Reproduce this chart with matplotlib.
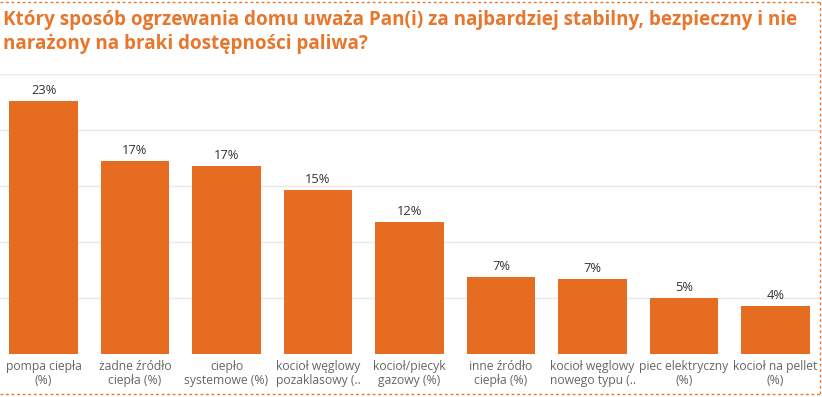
import matplotlib
matplotlib.use("Agg")
import matplotlib.pyplot as plt
from matplotlib.lines import Line2D

categories = [
    "pompa ciepła\n(%)",
    "żadne źródło\nciepła (%)",
    "ciepło\nsystemowe (%)",
    "kocioł węglowy\npozaklasowy (..",
    "kocioł/piecyk\ngazowy (%)",
    "inne źródło\nciepła (%)",
    "kocioł węglowy\nnowego typu (..",
    "piec elektryczny\n(%)",
    "kocioł na pellet\n(%)",
]
values = [22.6, 17.2, 16.8, 14.6, 11.8, 6.9, 6.7, 5.0, 4.3]
value_labels = ["23%", "17%", "17%", "15%", "12%", "7%", "7%", "5%", "4%"]
title = ("Który sposób ogrzewania domu uważa Pan(i) za najbardziej stabilny, bezpieczny i nie\n"
         "narażony na braki dostępności paliwa?")
y_gridlines = [5, 10, 15, 20, 25]

BAR = "#E66C21"
TITLE_C = "#E8762C"
W, H = 822, 397

plt.rcParams["font.family"] = ["Open Sans", "DejaVu Sans"]
fig = plt.figure(figsize=(W / 100, H / 100), dpi=100)

ax = fig.add_axes([0, 43 / H, 1, 280 / H])
x = list(range(len(categories)))
ax.bar(x, values, width=0.75, color=BAR, zorder=3)
ax.set_xlim(-43.5 / 91.5, (W - 43.5) / 91.5)
ax.set_ylim(0, 25)
for g in y_gridlines:
    ax.axhline(g, color="#e9e9e9", lw=1, zorder=1)
for xi, v, lab in zip(x, values, value_labels):
    ax.annotate(lab, (xi, v), xytext=(0, 3), textcoords="offset points",
                ha="center", va="bottom", fontsize=9.3, color="#333333")
ax.set_xticks(x)
ax.set_xticklabels(categories, fontsize=8.7, color="#666666", linespacing=1.15)
ax.tick_params(axis="x", length=0, pad=4)
ax.set_yticks([])
for s in ax.spines.values():
    s.set_visible(False)

fig.text(3 / W, 1 - 10 / H, title, ha="left", va="top", fontsize=13.6,
         fontweight="bold", color=TITLE_C, linespacing=1.3)

# dashed border
kw = dict(color=TITLE_C, lw=1, ls=(0, (2, 2)), transform=fig.transFigure)
fig.add_artist(Line2D([0, 819.5 / W], [1 - 1.5 / H, 1 - 1.5 / H], **kw))
fig.add_artist(Line2D([819.5 / W, 819.5 / W], [1 - 1.5 / H, 1 - 393.5 / H], **kw))
fig.add_artist(Line2D([0, 819.5 / W], [1 - 393.5 / H, 1 - 393.5 / H], **kw))

fig.savefig("out.png", dpi=100)
